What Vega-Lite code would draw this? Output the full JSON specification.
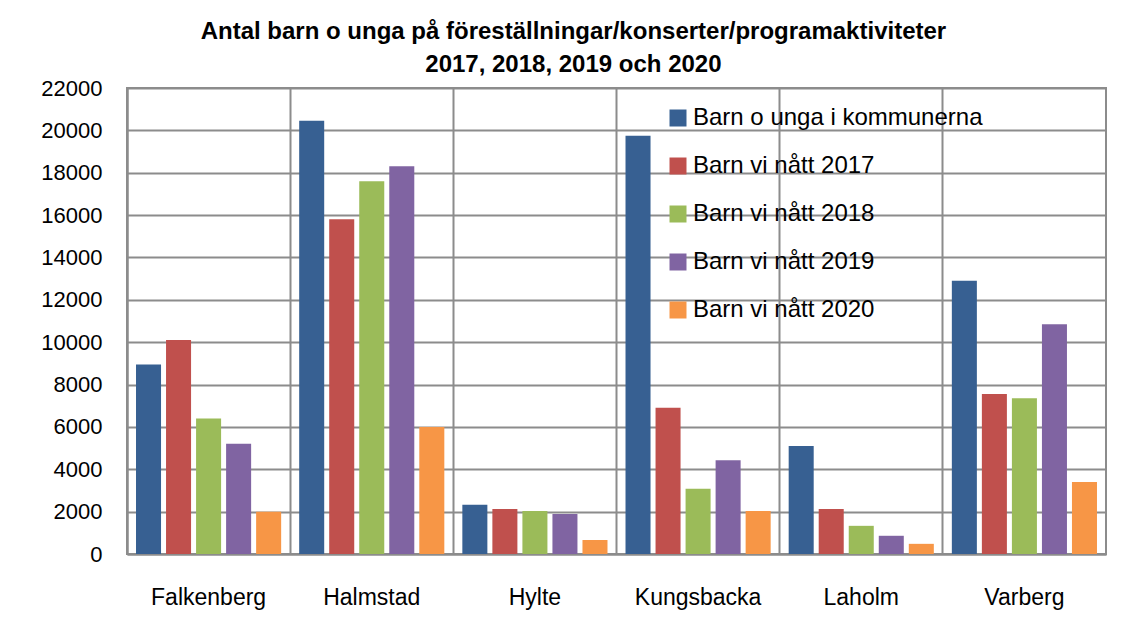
{
  "$schema": "https://vega.github.io/schema/vega-lite/v6.json",
  "autosize": "none",
  "width": 979,
  "height": 466,
  "padding": {"left": 127, "top": 88, "right": 20, "bottom": 74},
  "background": "white",
  "title": {
    "text": ["Antal barn o unga på föreställningar/konserter/programaktiviteter", "2017, 2018, 2019 och 2020"],
    "anchor": "middle",
    "frame": "bounds",
    "font": "Liberation Sans",
    "fontSize": 24,
    "fontWeight": "bold",
    "lineHeight": 33,
    "color": "black",
    "offset": 0
  },
  "data": {
    "values": [
      {"kommun": "Falkenberg", "serie": "Barn o unga i kommunerna", "antal": 8950},
      {"kommun": "Falkenberg", "serie": "Barn vi nått 2017", "antal": 10100},
      {"kommun": "Falkenberg", "serie": "Barn vi nått 2018", "antal": 6400},
      {"kommun": "Falkenberg", "serie": "Barn vi nått 2019", "antal": 5200},
      {"kommun": "Falkenberg", "serie": "Barn vi nått 2020", "antal": 2000},
      {"kommun": "Halmstad", "serie": "Barn o unga i kommunerna", "antal": 20450},
      {"kommun": "Halmstad", "serie": "Barn vi nått 2017", "antal": 15800},
      {"kommun": "Halmstad", "serie": "Barn vi nått 2018", "antal": 17600},
      {"kommun": "Halmstad", "serie": "Barn vi nått 2019", "antal": 18300},
      {"kommun": "Halmstad", "serie": "Barn vi nått 2020", "antal": 6000},
      {"kommun": "Hylte", "serie": "Barn o unga i kommunerna", "antal": 2320},
      {"kommun": "Hylte", "serie": "Barn vi nått 2017", "antal": 2130},
      {"kommun": "Hylte", "serie": "Barn vi nått 2018", "antal": 2030},
      {"kommun": "Hylte", "serie": "Barn vi nått 2019", "antal": 1890},
      {"kommun": "Hylte", "serie": "Barn vi nått 2020", "antal": 660},
      {"kommun": "Kungsbacka", "serie": "Barn o unga i kommunerna", "antal": 19750},
      {"kommun": "Kungsbacka", "serie": "Barn vi nått 2017", "antal": 6900},
      {"kommun": "Kungsbacka", "serie": "Barn vi nått 2018", "antal": 3080},
      {"kommun": "Kungsbacka", "serie": "Barn vi nått 2019", "antal": 4430},
      {"kommun": "Kungsbacka", "serie": "Barn vi nått 2020", "antal": 2030},
      {"kommun": "Laholm", "serie": "Barn o unga i kommunerna", "antal": 5100},
      {"kommun": "Laholm", "serie": "Barn vi nått 2017", "antal": 2130},
      {"kommun": "Laholm", "serie": "Barn vi nått 2018", "antal": 1330},
      {"kommun": "Laholm", "serie": "Barn vi nått 2019", "antal": 860},
      {"kommun": "Laholm", "serie": "Barn vi nått 2020", "antal": 480},
      {"kommun": "Varberg", "serie": "Barn o unga i kommunerna", "antal": 12900},
      {"kommun": "Varberg", "serie": "Barn vi nått 2017", "antal": 7550},
      {"kommun": "Varberg", "serie": "Barn vi nått 2018", "antal": 7350},
      {"kommun": "Varberg", "serie": "Barn vi nått 2019", "antal": 10850},
      {"kommun": "Varberg", "serie": "Barn vi nått 2020", "antal": 3400}
    ]
  },
  "mark": {"type": "bar"},
  "encoding": {
    "x": {
      "field": "kommun",
      "type": "nominal",
      "sort": null,
      "scale": {"paddingInner": 0, "paddingOuter": 0},
      "axis": {
        "title": null,
        "labelAngle": 0,
        "labelFont": "Liberation Sans",
        "labelFontSize": 23,
        "labelColor": "black",
        "labelPadding": 32,
        "ticks": false,
        "domainColor": "#8c8c8c",
        "domainWidth": 2,
        "grid": true,
        "bandPosition": 0,
        "gridColor": "#8c8c8c",
        "gridWidth": 2
      }
    },
    "xOffset": {
      "field": "serie",
      "type": "nominal",
      "sort": null,
      "scale": {"paddingInner": 0.1667, "paddingOuter": 0.3}
    },
    "y": {
      "field": "antal",
      "type": "quantitative",
      "scale": {"domain": [0, 22000], "nice": false},
      "axis": {
        "title": null,
        "values": [0, 2000, 4000, 6000, 8000, 10000, 12000, 14000, 16000, 18000, 20000, 22000],
        "format": "d",
        "labelFont": "Liberation Sans",
        "labelFontSize": 22,
        "labelColor": "black",
        "labelPadding": 25,
        "ticks": false,
        "domainColor": "#8c8c8c",
        "domainWidth": 2,
        "gridColor": "#8c8c8c",
        "gridWidth": 2
      }
    },
    "color": {
      "field": "serie",
      "type": "nominal",
      "scale": {
        "domain": ["Barn o unga i kommunerna", "Barn vi nått 2017", "Barn vi nått 2018", "Barn vi nått 2019", "Barn vi nått 2020"],
        "range": ["#376092", "#C0504D", "#9BBB59", "#8064A2", "#F79646"]
      },
      "legend": {
        "title": null,
        "orient": "none",
        "legendX": 539,
        "legendY": 18,
        "symbolType": "square",
        "symbolSize": 289,
        "symbolStrokeWidth": 0,
        "labelFont": "Liberation Sans",
        "labelFontSize": 24,
        "labelColor": "black",
        "labelOffset": 3,
        "rowPadding": 24,
        "labelLimit": 450
      }
    }
  },
  "config": {
    "view": {"stroke": "#8c8c8c", "strokeWidth": 2}
  }
}
